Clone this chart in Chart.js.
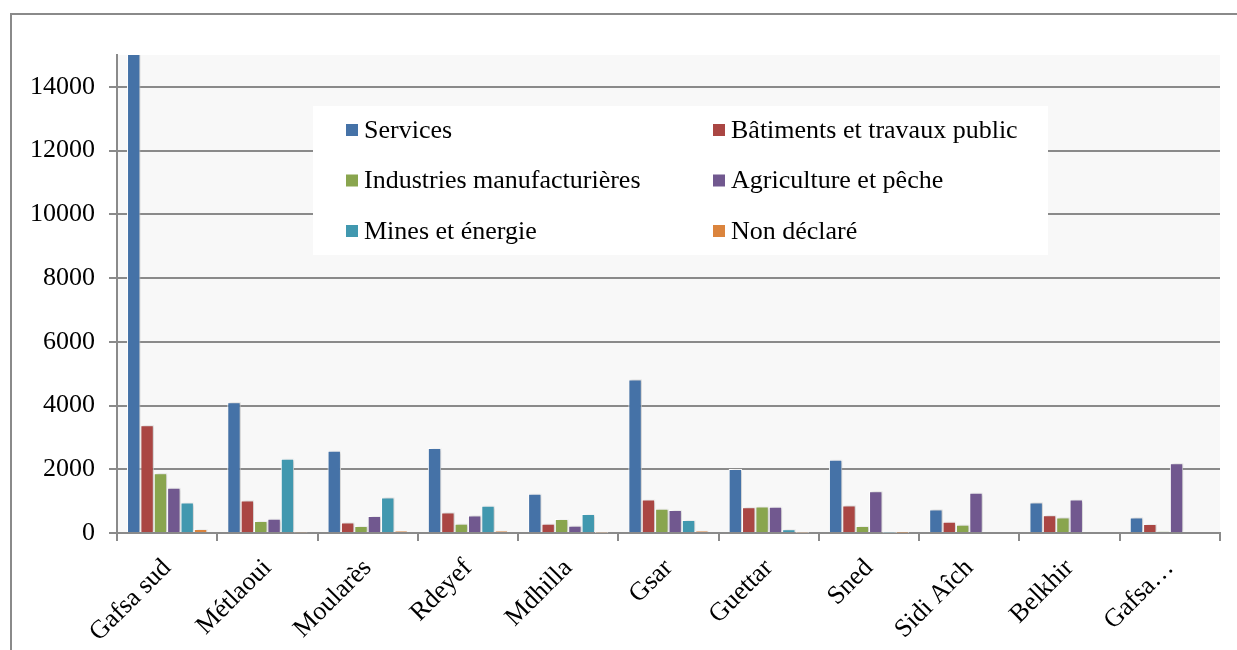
<!DOCTYPE html>
<html lang="fr">
<head>
    <meta charset="UTF-8">
    <title>Population active occupée par secteur</title>
    <script src="https://cdn.jsdelivr.net/npm/chart.js"></script>
    <style>
        body {
            margin: 0;
            background: #fff;
        }
        #wrap {
            position: relative;
            width: 1237px;
            height: 650px;
        }
    </style>
</head>
<body>
    <div id="wrap">
        <canvas id="barChart" width="1237" height="650"></canvas>
    </div>

    <script>
        // delegations
        const categories = ["Gafsa sud", "Métlaoui", "Moularès", "Rdeyef", "Mdhilla", "Gsar", "Guettar", "Sned", "Sidi Aîch", "Belkhir", "Gafsa…"];

        // one list per sector
        const services    = [15500, 4100, 2580, 2670, 1230, 4820, 2010, 2300, 740, 960, 490];
        const batiments   = [3380, 1020, 330, 645, 290, 1050, 810, 865, 355, 560, 280];
        const industries  = [1875, 375, 220, 290, 440, 760, 830, 220, 260, 490, 50];
        const agriculture = [1420, 450, 530, 550, 230, 720, 820, 1310, 1260, 1050, 2190];
        const mines       = [955, 2330, 1115, 855, 600, 405, 115, 10, 0, 0, 0];
        const nonDeclare  = [125, 15, 60, 70, 10, 70, 10, 5, 0, 0, 0];

        const seriesNames = ["Services", "Bâtiments et travaux public", "Industries manufacturières", "Agriculture et pêche", "Mines et énergie", "Non déclaré"];
        const seriesColors = ["#4572A7", "#AA4643", "#89A54E", "#71588F", "#4198AF", "#DB843D"];
        const yTicks = [0, 2000, 4000, 6000, 8000, 10000, 12000, 14000];

        const serif = '"Liberation Serif", Tinos, "DejaVu Serif", serif';
        const axisGray = '#8a8a8a';

        const allSeries = [services, batiments, industries, agriculture, mines, nonDeclare];

        // frame, plot background and the legend box inside the plot
        const decorations = {
            id: 'decorations',
            beforeDraw(chart) {
                const ctx = chart.ctx;
                const a = chart.chartArea;
                ctx.save();
                ctx.fillStyle = '#f8f8f8';
                ctx.fillRect(a.left, a.top, a.right - a.left, a.bottom - a.top);
                ctx.strokeStyle = axisGray;
                ctx.lineWidth = 2;
                ctx.beginPath();
                ctx.moveTo(11, 700);
                ctx.lineTo(11, 14);
                ctx.lineTo(1300, 14);
                ctx.stroke();
                ctx.restore();
            },
            beforeDatasetsDraw(chart) {
                chart.ctx.save();
                chart.ctx.shadowColor = 'rgba(0,0,0,0.22)';
                chart.ctx.shadowBlur = 3;
                chart.ctx.shadowOffsetX = 2;
            },
            afterDatasetsDraw(chart) {
                chart.ctx.restore();
                const ctx = chart.ctx;
                ctx.save();
                ctx.fillStyle = '#ffffff';
                ctx.fillRect(313, 106, 735, 149);
                ctx.font = '26px ' + serif;
                ctx.textBaseline = 'middle';
                chart.data.datasets.forEach((ds, i) => {
                    const col = i % 2, row = Math.floor(i / 2);
                    const x = col === 0 ? 346 : 713;
                    const y = 130 + row * 50.5;
                    ctx.fillStyle = ds.backgroundColor;
                    ctx.fillRect(x, y - 6, 12, 12);
                    ctx.fillStyle = '#000';
                    ctx.fillText(ds.label, x + 18, y + 1);
                });
                ctx.restore();
            }
        };

        new Chart(document.getElementById('barChart'), {
            type: 'bar',
            data: {
                labels: categories,
                datasets: allSeries.map((values, i) => ({
                    label: seriesNames[i],
                    data: values,
                    backgroundColor: seriesColors[i],
                    borderColor: '#ffffff',
                    borderWidth: 1,
                    borderSkipped: 'bottom',
                    categoryPercentage: 0.8,
                    barPercentage: 1.0
                }))
            },
            options: {
                responsive: false,
                animation: false,
                layout: { padding: { top: 55, right: 17, left: 0, bottom: 0 } },
                plugins: {
                    legend: { display: false },
                    tooltip: { enabled: false }
                },
                scales: {
                    x: {
                        afterFit(scale) { scale.height = 117; },
                        border: { color: axisGray, width: 2 },
                        grid: {
                            offset: true,
                            drawOnChartArea: false,
                            color: axisGray,
                            lineWidth: 2,
                            tickLength: 8
                        },
                        ticks: {
                            autoSkip: false,
                            minRotation: 45,
                            maxRotation: 45,
                            padding: 12,
                            color: '#000',
                            font: { family: serif, size: 26 }
                        }
                    },
                    y: {
                        min: 0,
                        max: 15000,
                        afterFit(scale) { scale.width = 117; },
                        afterBuildTicks(scale) {
                            scale.ticks = yTicks.map(v => ({ value: v }));
                        },
                        border: { color: axisGray, width: 2 },
                        grid: {
                            color: axisGray,
                            lineWidth: 2,
                            tickLength: 8
                        },
                        ticks: {
                            padding: 14,
                            color: '#000',
                            font: { family: serif, size: 26 },
                            callback: v => String(v)
                        }
                    }
                }
            },
            plugins: [decorations]
        });
    </script>
</body>
</html>
